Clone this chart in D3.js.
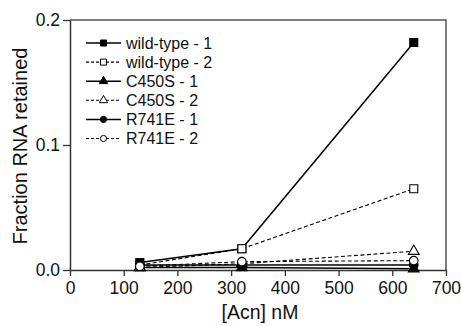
<!DOCTYPE html>
<html>
<head>
<meta charset="utf-8">
<script src="https://cdn.jsdelivr.net/npm/d3@7"></script>
<style>
  body { margin: 0; background: #fff; }
  svg text { font-family: "Liberation Sans", Arial, sans-serif; fill: #111; }
</style>
</head>
<body>
<div id="chart"></div>
<script>
// concentrations (nM)
const conc = [130, 320, 640];

const seriesNames = ["wild-type - 1", "wild-type - 2", "C450S - 1", "C450S - 2", "R741E - 1", "R741E - 2"];
const wt1 = [0.006, 0.017, 0.182];
const wt2 = [0.004, 0.017, 0.065];
const c450s1 = [0.002, 0.002, 0.001];
const c450s2 = [0.002, 0.005, 0.015];
const r741e1 = [0.004, 0.004, 0.004];
const r741e2 = [0.003, 0.0067, 0.0075];

const xTicks = [0, 100, 200, 300, 400, 500, 600, 700];
const yTicks = [0, 0.1, 0.2];

const series = [
  { name: seriesNames[0], values: wt1, sym: d3.symbolSquare, filled: true, dashed: false },
  { name: seriesNames[1], values: wt2, sym: d3.symbolSquare, filled: false, dashed: true },
  { name: seriesNames[2], values: c450s1, sym: d3.symbolTriangle, filled: true, dashed: false },
  { name: seriesNames[3], values: c450s2, sym: d3.symbolTriangle, filled: false, dashed: true },
  { name: seriesNames[4], values: r741e1, sym: d3.symbolCircle, filled: true, dashed: false },
  { name: seriesNames[5], values: r741e2, sym: d3.symbolCircle, filled: false, dashed: true }
];

const W = 461, H = 326;
const margin = { top: 20, right: 15, bottom: 56, left: 70 };
const width = W - margin.left - margin.right;
const height = H - margin.top - margin.bottom;

const svg = d3.select("#chart").append("svg")
  .attr("width", W)
  .attr("height", H);

const g = svg.append("g")
  .attr("transform", "translate(" + margin.left + "," + margin.top + ")");

const x = d3.scaleLinear().domain([0, 700]).range([0, width]);
const y = d3.scaleLinear().domain([0, 0.2]).range([height, 0]);

// frame (top + right)
g.append("path")
  .attr("d", `M0,0H${width}V${height}`)
  .attr("fill", "none")
  .attr("stroke", "#555")
  .attr("stroke-width", 1.5);

const xAxis = g.append("g")
  .attr("transform", "translate(0," + height + ")")
  .call(d3.axisBottom(x).tickValues(xTicks).tickFormat(d3.format("d")).tickSize(6).tickSizeOuter(0));

const yAxis = g.append("g")
  .call(d3.axisLeft(y).tickValues(yTicks).tickFormat(d3.format(".1f")).tickSize(7).tickSizeOuter(0));

[xAxis, yAxis].forEach(a => {
  a.select(".domain").attr("stroke", "#333").attr("stroke-width", 1.5);
  a.selectAll(".tick line").attr("stroke", "#333").attr("stroke-width", 1.3);
  a.selectAll(".tick text").attr("font-size", 17.5).attr("fill", "#111")
    .attr("font-family", "Liberation Sans, Arial, sans-serif");
});
xAxis.selectAll(".tick text").attr("dy", "0.88em");
yAxis.selectAll(".tick text").attr("dy", "0.34em");

// axis titles
svg.append("text")
  .attr("x", margin.left + x(350) + 2)
  .attr("y", 319)
  .attr("text-anchor", "middle")
  .attr("font-size", 19.5)
  .text("[Acn] nM");

svg.append("text")
  .attr("transform", `translate(27,146) rotate(-90)`)
  .attr("text-anchor", "middle")
  .attr("font-size", 20)
  .text("Fraction RNA retained");

const line = d3.line()
  .x((d, i) => x(conc[i]))
  .y(d => y(d));

// draw lines
series.forEach(s => {
  g.append("path")
    .datum(s.values)
    .attr("d", line)
    .attr("fill", "none")
    .attr("stroke", "#000")
    .attr("stroke-width", s.dashed ? 1.1 : 1.5)
    .attr("stroke-dasharray", s.dashed ? "4,2.5" : null);
});

const symSize = s => s.sym === d3.symbolSquare ? 64 : (s.sym === d3.symbolTriangle ? 50 : 58);

series.forEach(s => {
  g.selectAll(null)
    .data(s.values)
    .enter().append("path")
    .attr("d", d3.symbol().type(s.sym).size(symSize(s)))
    .attr("transform", (d, i) => `translate(${x(conc[i])},${y(d)})`)
    .attr("fill", s.filled ? "#000" : "#fff")
    .attr("stroke", "#000")
    .attr("stroke-width", 1.1);
});

// legend
const legend = g.append("g").attr("transform", "translate(16,23)");
series.forEach((s, i) => {
  const row = legend.append("g").attr("transform", `translate(0,${i * 19.1})`);
  row.append("line")
    .attr("x1", 0).attr("x2", 35)
    .attr("y1", 0).attr("y2", 0)
    .attr("stroke", "#000")
    .attr("stroke-width", s.dashed ? 1.1 : 1.5)
    .attr("stroke-dasharray", s.dashed ? "3,2" : null);
  row.append("path")
    .attr("d", d3.symbol().type(s.sym).size(s.sym === d3.symbolSquare ? 36 : 30))
    .attr("transform", "translate(17.5,0)")
    .attr("fill", s.filled ? "#000" : "#fff")
    .attr("stroke", "#000")
    .attr("stroke-width", 1);
  row.append("text")
    .attr("x", 40)
    .attr("y", 0)
    .attr("dy", "0.36em")
    .attr("font-size", 16)
    .text(s.name);
});
</script>
</body>
</html>
